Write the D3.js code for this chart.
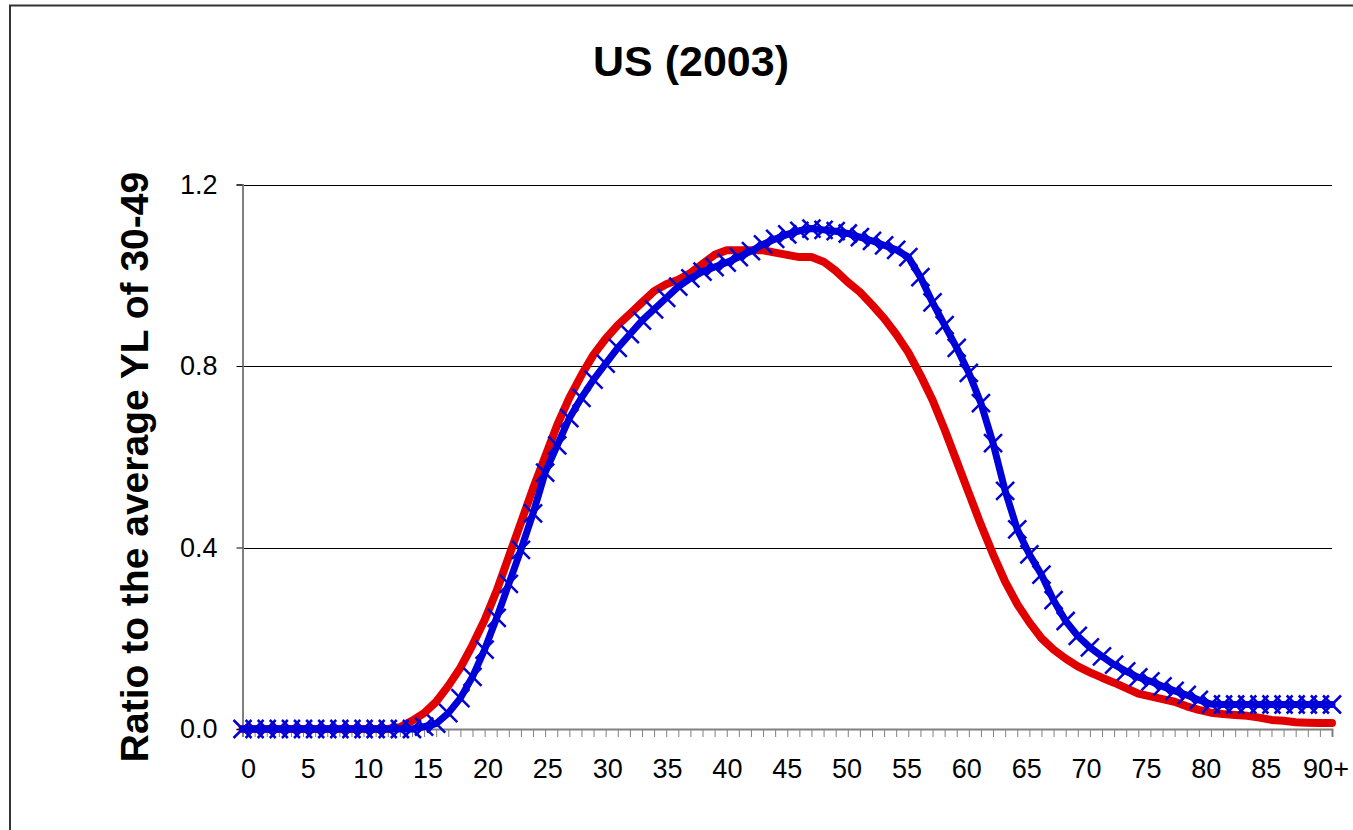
<!DOCTYPE html>
<html>
<head>
<meta charset="utf-8">
<script src="https://cdn.jsdelivr.net/npm/d3@7"></script>
<style>
  html, body { margin: 0; padding: 0; background: #fff; }
  svg { display: block; }
  text { font-family: "Liberation Sans", Arial, sans-serif; }
</style>
</head>
<body>
<svg id="chart" width="1353" height="830"></svg>
<script>
const title = "US (2003)";
const yTitle = "Ratio to the average YL of 30-49";
const ages = d3.range(0, 91);
const ageLabels = ["0","5","10","15","20","25","30","35","40","45","50","55","60","65","70","75","80","85","90+"];
const yTicks = [0, 0.4, 0.8, 1.2];

const redSeries = [
  0,0,0,0,0,0,0,0,0,0,
  0,0,0,0.004,0.018,0.035,0.06,0.095,0.135,0.185,
  0.24,0.305,0.38,0.455,0.53,0.6,0.67,0.73,0.78,0.825,
  0.86,0.89,0.915,0.94,0.965,0.98,0.99,1.005,1.025,1.045,
  1.055,1.055,1.055,1.055,1.05,1.045,1.04,1.04,1.03,1.01,
  0.985,0.963,0.935,0.905,0.87,0.83,0.78,0.725,0.66,0.59,
  0.52,0.45,0.385,0.325,0.275,0.235,0.2,0.175,0.155,0.138,
  0.125,0.113,0.102,0.09,0.078,0.072,0.066,0.06,0.05,0.042,
  0.036,0.033,0.031,0.029,0.025,0.02,0.018,0.015,0.014,0.013,
  0.013
];
const blueSeries = [
  0,0,0,0,0,0,0,0,0,0,
  0,0,0,0,0,0.005,0.012,0.035,0.068,0.115,
  0.175,0.245,0.32,0.395,0.475,0.565,0.625,0.685,0.73,0.77,
  0.805,0.84,0.87,0.9,0.925,0.95,0.975,0.993,1.008,1.018,
  1.028,1.04,1.053,1.068,1.08,1.09,1.098,1.103,1.1,1.097,
  1.092,1.084,1.076,1.066,1.056,1.04,0.996,0.94,0.89,0.84,
  0.785,0.718,0.63,0.525,0.44,0.385,0.34,0.284,0.238,0.205,
  0.18,0.16,0.142,0.127,0.114,0.105,0.094,0.084,0.075,0.064,
  0.055,0.054,0.054,0.054,0.054,0.054,0.054,0.054,0.054,0.054,
  0.054
];

const svg = d3.select("#chart");
const plotL = 242.5, plotR = 1332, plotT = 184.5, plotB = 729;

// outer frame (only top and left edges visible)
svg.append("rect").attr("x", 10).attr("y", 5.5).attr("width", 1500).attr("height", 1000)
  .attr("fill", "none").attr("stroke", "#333").attr("stroke-width", 2);

const x = d3.scalePoint().domain(ages).range([plotL, plotR]);
const xBand = d3.scaleBand().domain(ages).range([plotL, plotR]);
const y = d3.scaleLinear().domain([0, 1.2]).range([plotB, plotT]);

// gridlines
svg.append("g").selectAll("line").data(yTicks.filter(d => d > 0)).join("line")
  .attr("x1", plotL).attr("x2", plotR)
  .attr("y1", d => Math.round(y(d)) + 0.5).attr("y2", d => Math.round(y(d)) + 0.5)
  .attr("stroke", "#000").attr("stroke-width", 1);

// y axis
const yAxis = svg.append("g").attr("transform", `translate(${plotL},0)`)
  .call(d3.axisLeft(y).tickValues(yTicks).tickSize(6).tickPadding(19).tickFormat(d3.format(".1f")));
yAxis.select(".domain").attr("stroke", "#808080").attr("stroke-width", 2);
yAxis.selectAll(".tick line").attr("stroke", "#000");
yAxis.selectAll(".tick text").attr("font-size", 27).attr("fill", "#000")
  .attr("font-family", "Liberation Sans, Arial, sans-serif");

// x axis tick marks (at each age)
const xAxis = svg.append("g").attr("transform", `translate(0,${plotB})`)
  .call(d3.axisBottom(x).tickSize(8).tickFormat(""));
xAxis.select(".domain").attr("stroke", "#808080").attr("stroke-width", 2);
xAxis.selectAll(".tick line").attr("stroke", "#808080");

// x axis labels (centered in category bands)
const labelMap = new Map(ageLabels.map(l => [parseInt(l), l]));
const xLab = svg.append("g").attr("transform", `translate(0,${plotB})`)
  .call(d3.axisBottom(xBand).tickValues(ages.filter(a => labelMap.has(a)))
    .tickSize(0).tickPadding(30).tickFormat(a => labelMap.get(a)));
xLab.select(".domain").remove();
xLab.selectAll(".tick text").attr("font-size", 27).attr("fill", "#000")
  .attr("font-family", "Liberation Sans, Arial, sans-serif");

const line = d3.line().x((d, i) => x(ages[i])).y(d => y(d));

svg.append("path").datum(redSeries).attr("d", line)
  .attr("fill", "none").attr("stroke", "#e00000").attr("stroke-width", 8)
  .attr("stroke-linejoin", "round").attr("stroke-linecap", "round");

svg.append("path").datum(blueSeries).attr("d", line)
  .attr("fill", "none").attr("stroke", "#0000d8").attr("stroke-width", 7)
  .attr("stroke-linejoin", "round").attr("stroke-linecap", "round");

const m = 9;
svg.append("g").selectAll("path").data(blueSeries).join("path")
  .attr("d", (d, i) => {
    const cx = x(ages[i]), cy = y(d);
    return `M${cx - m},${cy - m}L${cx + m},${cy + m}M${cx - m},${cy + m}L${cx + m},${cy - m}`;
  })
  .attr("stroke", "#0000d8").attr("stroke-width", 2.5).attr("fill", "none");

// titles
svg.append("text").attr("x", 691).attr("y", 76).attr("text-anchor", "middle")
  .attr("font-size", 43).attr("font-weight", "bold").text(title);

svg.append("text").attr("transform", "translate(148,467) rotate(-90)")
  .attr("text-anchor", "middle").attr("font-size", 39).attr("font-weight", "bold").text(yTitle);
</script>
</body>
</html>
